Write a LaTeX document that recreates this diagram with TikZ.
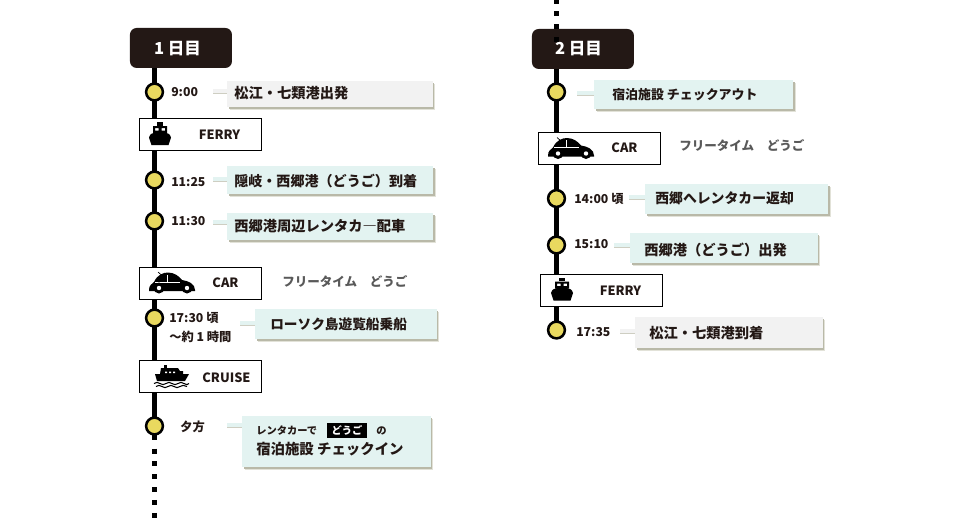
\documentclass[tikz,border=0pt]{standalone}
\usepackage{fontspec}
\usetikzlibrary{backgrounds,shadows}
\newfontfamily\jp{Noto Sans CJK JP}
\definecolor{ink}{HTML}{231815}
\definecolor{dot}{HTML}{E9D95F}
\definecolor{teal}{HTML}{E3F3F1}
\definecolor{pale}{HTML}{F2F2F2}
\definecolor{shad}{HTML}{B9B9A8}
\definecolor{shadb}{HTML}{E2E2D8}
\definecolor{graytxt}{HTML}{595959}
\tikzset{
  x=0.75pt,y=-0.75pt,
  spine/.style={line width=3.75pt,black},
  dots/.style={line width=3.75pt,black,dash pattern=on 3.75pt off 5.9pt},
  dayhead/.style={fill=ink,rounded corners=5pt,minimum width=76.5pt,minimum height=30pt,inner sep=0pt,anchor=north west},
  daytext/.style={text=white,font=\jp\bfseries\fontsize{12.4}{14}\selectfont,inner sep=0pt,yshift=-0.6pt},
  stop/.style={circle,fill=dot,draw=black,line width=1.9pt,minimum size=12.6pt,inner sep=0pt},
  modebox/.style={draw=black,fill=white,line width=0.75pt,minimum width=92pt,minimum height=24pt,inner sep=0pt,anchor=north west},
  modetext/.style={font=\jp\bfseries\fontsize{9.6}{12}\selectfont,text=ink,inner sep=0pt,yshift=-0.6pt},
  timetext/.style={font=\jp\bfseries\fontsize{9.2}{12}\selectfont,text=ink,inner sep=0pt,anchor=west,yshift=-0.6pt},
  maintext/.style={font=\jp\bfseries\fontsize{10.7}{13}\selectfont,text=ink,inner sep=0pt,anchor=west,yshift=-0.3pt},
  smalltext/.style={font=\jp\bfseries\fontsize{7.7}{10}\selectfont,text=ink,inner sep=0pt,anchor=west,yshift=-0.3pt},
  freetext/.style={font=\jp\bfseries\fontsize{9.4}{12}\selectfont,text=graytxt,inner sep=0pt,anchor=west},
  callout/.style={fill=#1,inner sep=0pt,anchor=north west,
    general shadow={fill=shadb,shadow xshift=2pt,shadow yshift=-2pt},
    general shadow={fill=shad,shadow xshift=1.2pt,shadow yshift=-1.3pt}},
  tail/.style={line width=2.6pt,draw=#1,preaction={draw=shad!70,line width=2pt,transform canvas={yshift=-1.2pt}}},
  ferryicon/.pic={
    \fill[black] (8,0) rectangle (14,3.5);
    \fill[black,even odd rule] (4,4) rectangle (18,11) (6,6) rectangle (9.5,8.5) (12.5,6) rectangle (16,8.5);
    \fill[black] (0,15.5) .. controls (1,12) and (3,11) .. (6,10.5) -- (16,10.5) .. controls (19,11) and (21,12) .. (22,15.5) -- (19.5,23) -- (2.5,23) -- cycle;
  },
  caricon/.pic={
    \draw[black,line width=0.5pt] (9,0) -- (13,3.5);
    \fill[black] (0,18) .. controls (0,13) and (3,12) .. (5,10) .. controls (8,3) and (14,0.5) .. (19,0.5) .. controls (25,0.5) and (30,4) .. (33,8) .. controls (40,9) and (46,12) .. (46,18) -- (46,19) -- (0,19) -- cycle;
    \draw[white,line width=0.35pt] (6,10) -- (31,10) (18,2.5) -- (18,10);
    \fill[black] (10,16) circle[radius=5.5] (38,16) circle[radius=5.5];
    \fill[white] (10,16) circle[radius=2.2] (38,16) circle[radius=2.2];
  },
  cruiseicon/.pic={
    \fill[black] (10,0) rectangle (13,4);
    \fill[black] (7,3) -- (24,3) -- (26,6) -- (29,6) -- (29,9) -- (6,9) -- cycle;
    \fill[white] (11,6.5) rectangle (13,8) (15,6.5) rectangle (17,8) (19,6.5) rectangle (21,8);
    \fill[black] (1,9) -- (35,9) -- (31,16) -- (3,16) -- cycle;
    \draw[black,line width=0.8pt] (0,18.5) .. controls (2,17) and (4,17) .. (6,18.5) .. controls (8,20) and (10,20) .. (12,18.5) .. controls (14,17) and (16,17) .. (18,18.5) .. controls (20,20) and (22,20) .. (24,18.5) .. controls (26,17) and (28,17) .. (30,18.5) .. controls (32,20) and (34,20) .. (35,18.5);
    \draw[black,line width=0.8pt] (2,21.5) .. controls (4,20) and (6,20) .. (8,21.5) .. controls (10,23) and (12,23) .. (14,21.5) .. controls (16,20) and (18,20) .. (20,21.5) .. controls (22,23) and (24,23) .. (26,21.5) .. controls (28,20) and (30,20) .. (33,21.5);
  },
}
\begin{document}
\begin{tikzpicture}
\useasboundingbox (0,0) rectangle (960,519);
% ---------- day 1 ----------
\node[dayhead] (h1) at (129.7,27.7) {};
\node[daytext] (h1t) at (177.5,48) {1 日目};
\coordinate (s1) at (154.5,60);
\coordinate (e1) at (154.5,448.5);
\coordinate (f1) at (154.5,519);
\node[stop] (a1) at (154.5,92) {};
\node[stop] (a2) at (154.5,180) {};
\node[stop] (a3) at (154.5,221) {};
\node[stop] (a4) at (154.5,318) {};
\node[stop] (a5) at (154.5,426) {};
\node[modebox] (m1) at (138.8,118) {};
\node[modebox] (m2) at (138.8,266.8) {};
\node[modebox] (m3) at (138.8,360) {};
\pic at (149,122) {ferryicon};
\pic at (149,272) {caricon};
\pic at (154,365) {cruiseicon};
\node[modetext] (m1t) at (219.5,133.5) {FERRY};
\node[modetext] (m2t) at (225.5,282) {CAR};
\node[modetext] (m3t) at (226.5,376.5) {CRUISE};
\node[freetext] (f1t) at (282,281) {フリータイム　どうご};
\node[timetext] (t1) at (171,91) {9:00};
\node[timetext] (t2) at (171,181.5) {11:25};
\node[timetext] (t3) at (171,220.5) {11:30};
\node[timetext] (t4) at (169,317) {17:30 頃};
\node[timetext] (t4b) at (169,336) {～約 1 時間};
\node[timetext] (t5) at (180,426) {夕方};
\coordinate (k1) at (213,91);
\coordinate (k2) at (213,179);
\coordinate (k3) at (213,222);
\coordinate (k4) at (240,323);
\coordinate (k5) at (227,425);
\draw[tail=pale] (k1) -- (230,91);
\draw[tail=teal] (k2) -- (230,179);
\draw[tail=teal] (k3) -- (230,222);
\draw[tail=teal] (k4) -- (258,323);
\draw[tail=teal] (k5) -- (245,425);
\node[callout=pale,minimum width=154pt,minimum height=19.5pt] (c1) at (227,81) {};
\node[callout=teal,minimum width=154.6pt,minimum height=21pt] (c2) at (227,166) {};
\node[callout=teal,minimum width=154.6pt,minimum height=20.5pt] (c3) at (227,212.7) {};
\node[callout=teal,minimum width=136pt,minimum height=22.5pt] (c4) at (255,309) {};
\node[callout=teal,minimum width=141.2pt,minimum height=38.25pt] (c5) at (242,416) {};
\node[maintext] (c1t) at (234,93) {松江・七類港出発};
\node[maintext,font=\jp\bfseries\fontsize{10.55}{13}\selectfont] (c2t) at (234,180.5) {隠岐・西郷港（どうご）到着};
\node[maintext] (c3t) at (234,226) {西郷港周辺レンタカ―配車};
\node[maintext,font=\jp\bfseries\fontsize{10.25}{13}\selectfont] (c4t) at (270,324) {ローソク島遊覧船乗船};
\node[smalltext] (c5a) at (256,430.5) {レンタカーで};
\node[fill=black,text=white,font=\jp\bfseries\fontsize{7.7}{10}\selectfont,minimum width=30pt,minimum height=11.25pt,inner sep=0pt] (c5b) at (347,430) {どうご};
\node[smalltext] (c5c) at (376,430.5) {の};
\node[maintext,font=\jp\bfseries\fontsize{10.8}{13}\selectfont] (c5d) at (256,449) {宿泊施設 チェックイン};
% ---------- day 2 ----------
\node[dayhead] (h2) at (531.7,28.7) {};
\coordinate (s2) at (556.5,60);
\coordinate (top2) at (556.5,-1.5);
\coordinate (dotend) at (556.5,42);
\node[daytext] (h2t) at (578.5,48) {2 日目};
\node[stop] (b1) at (556.5,92) {};
\node[stop] (b2) at (556.5,198.5) {};
\node[stop] (b3) at (556.5,245) {};
\node[stop] (b4) at (556.5,330) {};
\node[modebox] (n1) at (537.8,132) {};
\node[modebox] (n2) at (539.8,274) {};
\pic at (548,137.5) {caricon};
\pic at (551,277.5) {ferryicon};
\node[modetext] (n1t) at (624.5,146.5) {CAR};
\node[modetext] (n2t) at (620.5,289.5) {FERRY};
\node[freetext] (f2t) at (679,145) {フリータイム　どうご};
\node[timetext] (u2) at (574,198.5) {14:00 頃};
\node[timetext] (u3) at (574,243) {15:10};
\node[timetext] (u4) at (576,331) {17:35};
\coordinate (l1) at (577,93);
\coordinate (l2) at (629,197);
\coordinate (l3) at (614,245);
\coordinate (l4) at (620,331);
\draw[tail=teal] (l1) -- (597,93);
\draw[tail=teal] (l2) -- (648,197);
\draw[tail=teal] (l3) -- (633,245);
\draw[tail=pale] (l4) -- (638,331);
\node[callout=teal,minimum width=149pt,minimum height=21.75pt] (d1) at (594,80) {};
\node[callout=teal,minimum width=137pt,minimum height=22.5pt] (d2) at (645,184) {};
\node[callout=teal,minimum width=140.6pt,minimum height=22.5pt] (d3) at (630,233) {};
\node[callout=pale,minimum width=140.6pt,minimum height=23.25pt] (d4) at (635,317) {};
\node[maintext,font=\jp\bfseries\fontsize{9.7}{13}\selectfont] (d1t) at (612,94) {宿泊施設 チェックアウト};
\node[maintext,font=\jp\bfseries\fontsize{10.4}{13}\selectfont] (d2t) at (655,198) {西郷へレンタカー返却};
\node[maintext] (d3t) at (644,250) {西郷港（どうご）出発};
\node[maintext] (d4t) at (649,333) {松江・七類港到着};
\draw[dots] (top2) -- (dotend);
% ---------- spines behind everything ----------
\begin{pgfonlayer}{background}
\draw[spine] (s1) -- (a1.center) -- (a2.center) -- (a3.center) -- (a4.center) -- (a5.center) -- (154.5,440);
\draw[dots] (e1) -- (f1);
\draw[spine] (s2) -- (b1.center) -- (b2.center) -- (b3.center) -- (b4.center);
\end{pgfonlayer}
\end{tikzpicture}
\end{document}
